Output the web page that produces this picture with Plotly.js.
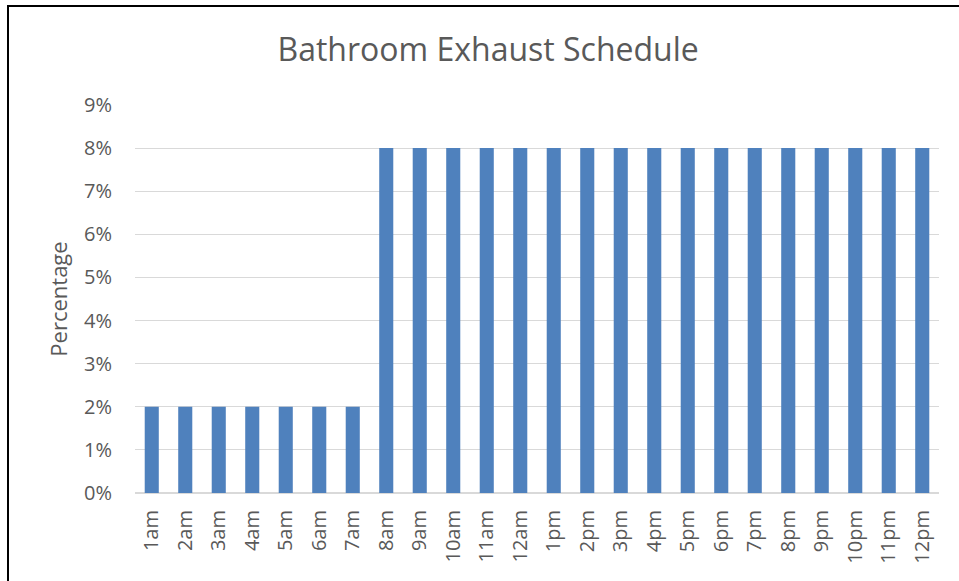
<!DOCTYPE html>
<html>
<head>
<meta charset="utf-8">
<script src="https://cdn.plot.ly/plotly-3.0.1.min.js"></script>
<style>
  html, body { margin: 0; padding: 0; background: #fff; }
  #chart { width: 959px; height: 581px; position: relative; }
  #frame { position: absolute; left: 7px; top: 5px; width: 960px; height: 600px;
           border-left: 2px solid #000; border-top: 2px solid #000; pointer-events: none; }
</style>
</head>
<body>
<div id="chart"></div>
<div id="frame"></div>
<script>
const categories = ["1am","2am","3am","4am","5am","6am","7am","8am","9am","10am","11am","12am",
  "1pm","2pm","3pm","4pm","5pm","6pm","7pm","8pm","9pm","10pm","11pm","12pm"];
const values = [0.02,0.02,0.02,0.02,0.02,0.02,0.02,0.08,0.08,0.08,0.08,0.08,
  0.08,0.08,0.08,0.08,0.08,0.08,0.08,0.08,0.08,0.08,0.08,0.08];
const yTickVals = [0,0.01,0.02,0.03,0.04,0.05,0.06,0.07,0.08,0.09];
const yTickText = ["0%","1%","2%","3%","4%","5%","6%","7%","8%","9%"];

const font = "'Open Sans', 'Noto Sans', sans-serif";
const trace = {
  type: "bar",
  x: categories,
  y: values,
  marker: { color: "#4F81BD", line: { width: 0 } },
  hoverinfo: "x+y"
};
const layout = {
  width: 959, height: 581,
  margin: { l: 135, r: 20, t: 105, b: 88 },
  paper_bgcolor: "#fff", plot_bgcolor: "#fff",
  bargap: 0.58,
  showlegend: false,
  title: { text: "Bathroom Exhaust Schedule", x: 0.509, xanchor: "center", y: 0.915, yanchor: "middle",
           font: { family: font, size: 32, color: "#595959", weight: 400 } },
  xaxis: {
    type: "category",
    tickangle: -90,
    tickfont: { family: font, size: 20, color: "#595959" },
    showgrid: false, showline: false, ticks: "", zeroline: false,
    ticklen: 0, ticklabelstandoff: 12
  },
  yaxis: {
    range: [0, 0.09],
    tickvals: yTickVals, ticktext: yTickText,
    tickfont: { family: font, size: 20, color: "#595959" },
    showgrid: true, gridcolor: "#D9D9D9", gridwidth: 1,
    zeroline: true, zerolinecolor: "#D9D9D9", zerolinewidth: 2,
    showline: false, ticks: "", ticklabelstandoff: 22,
    title: { text: "Percentage", standoff: 10, font: { family: font, size: 22, color: "#595959" } }
  }
};
Plotly.newPlot("chart", [trace], layout, { displayModeBar: false, staticPlot: true });
</script>
</body>
</html>
